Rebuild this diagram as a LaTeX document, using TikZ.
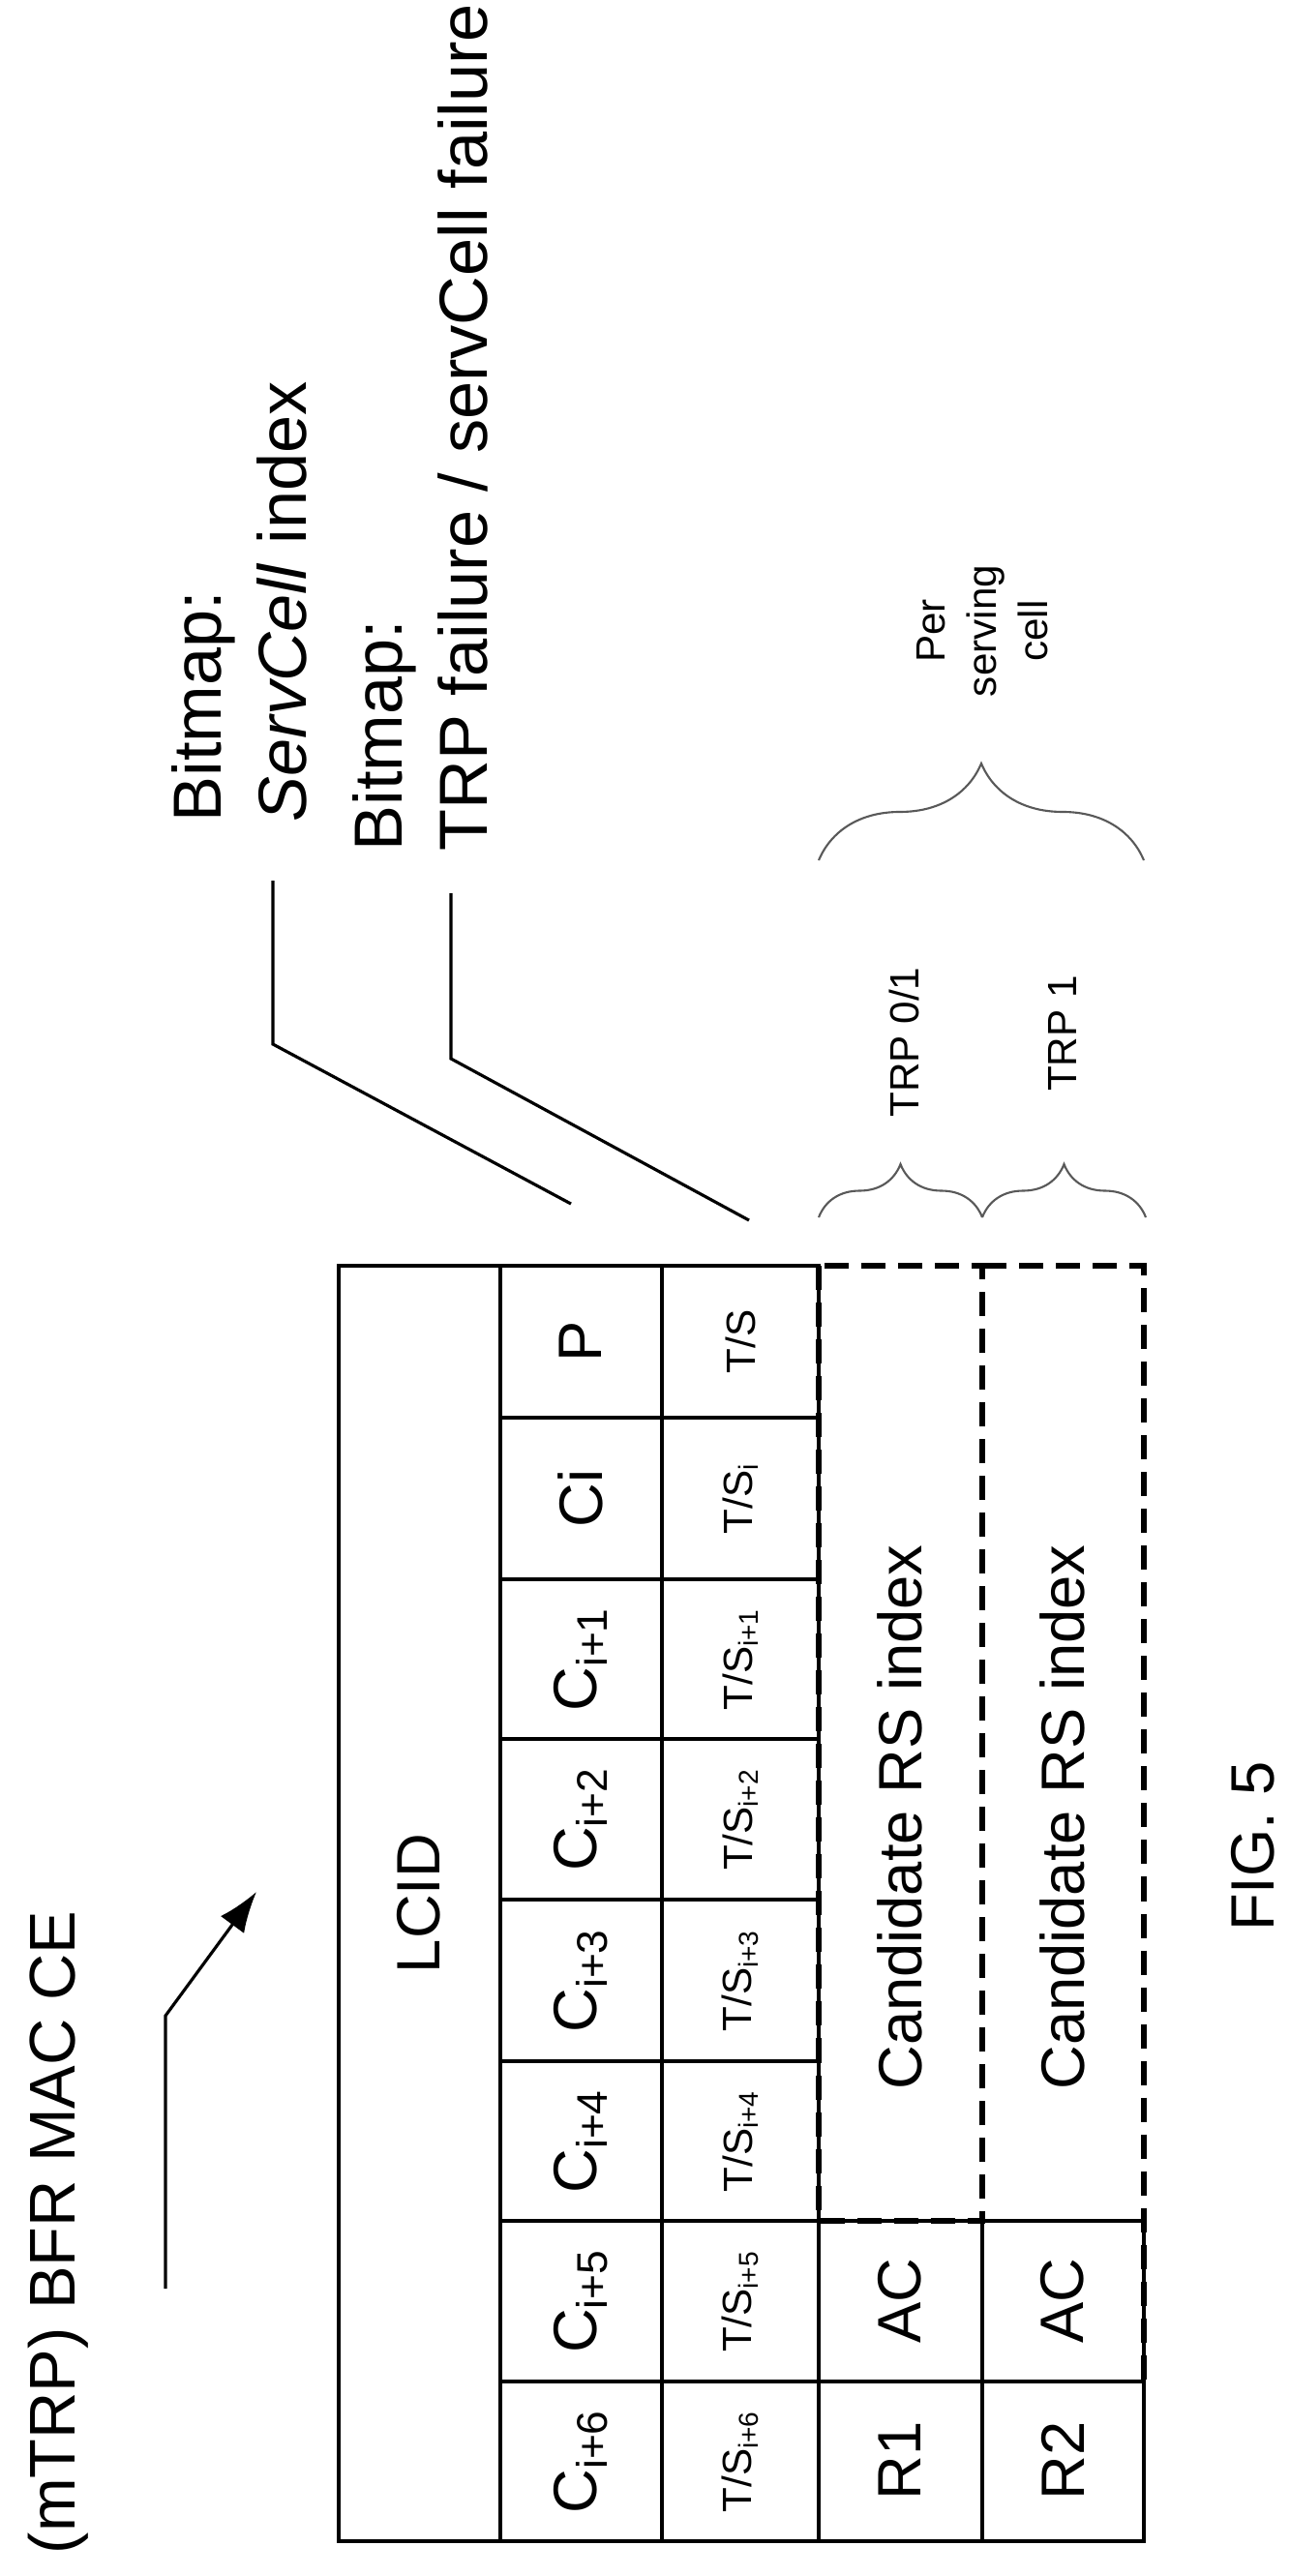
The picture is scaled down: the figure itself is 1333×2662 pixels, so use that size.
\documentclass[tikz,border=0pt]{standalone}
\usepackage{fontspec}
\setmainfont{Liberation Sans}
\usetikzlibrary{decorations.pathreplacing,arrows.meta}

\tikzset{
  px/.style={x=0.01cm,y=-0.01cm},
  cell/.style={draw,line width=0.9pt},
  rs/.style={draw,line width=1.8pt,dash pattern=on 0.25cm off 0.13cm},
  vlab/.style={rotate=90,inner sep=0pt,font=\fontsize{18}{21}\selectfont},
  tslab/.style={rotate=90,inner sep=0pt,font=\fontsize{12}{14}\selectfont},
  biglab/.style={rotate=90,inner sep=0pt,align=left,font=\fontsize{20}{25}\selectfont},
  smalllab/.style={rotate=90,inner sep=0pt,align=center,font=\fontsize{12}{15}\selectfont},
  leader/.style={line width=0.9pt},
  brc/.style={line width=0.6pt,gray!70!black,decorate,decoration={brace,amplitude=0.6cm}}
}

\begin{document}
\begin{tikzpicture}[px]
\useasboundingbox (0,0) rectangle (1333,2662);

% title and arrow
\node[vlab,font=\fontsize{19}{22}\selectfont] (title) at (60,2307) {(mTRP) BFR MAC CE};
\coordinate (a0) at (171,2365);
\coordinate (a1) at (171,2083);
\coordinate (a2) at (265,1955);
\draw[leader,-{Latex[length=0.42cm,width=0.3cm]}] (a0) -- (a1) -- (a2);

% LCID row
\draw[cell] (350,1308) rectangle (517,2626);
\node[vlab] (lcid) at (433,1967) {LCID};

% C and T/S rows
\foreach \ya/\yb/\cl/\tl [count=\k] in {
  1308/1465/P/{T/S},
  1465/1632/Ci/{T/S\textsubscript{i}},
  1632/1797/{C\textsubscript{i+1}}/{T/S\textsubscript{i+1}},
  1797/1963/{C\textsubscript{i+2}}/{T/S\textsubscript{i+2}},
  1963/2130/{C\textsubscript{i+3}}/{T/S\textsubscript{i+3}},
  2130/2295/{C\textsubscript{i+4}}/{T/S\textsubscript{i+4}},
  2295/2461/{C\textsubscript{i+5}}/{T/S\textsubscript{i+5}},
  2461/2626/{C\textsubscript{i+6}}/{T/S\textsubscript{i+6}}} {
  \draw[cell] (517,\ya) rectangle (684,\yb);
  \draw[cell] (684,\ya) rectangle (846,\yb);
  \node[vlab] (c\k) at (600,{(\ya+\yb)/2}) {\cl};
  \node[tslab] (ts\k) at (765,{(\ya+\yb)/2}) {\tl};
}

% R1 / R2 rows
\draw[rs] (846,1308) rectangle (1015,2295);
\draw[rs] (1015,1308) -- (1182,1308) -- (1182,2461);
\draw[cell] (846,2295) rectangle (1015,2461);
\draw[cell] (846,2461) rectangle (1015,2626);
\draw[cell] (1015,2295) rectangle (1182,2461);
\draw[cell] (1015,2461) rectangle (1182,2626);
\node[vlab] (rs1) at (930,1878) {Candidate RS index};
\node[vlab] (rs2) at (1098,1878) {Candidate RS index};
\node[vlab] (ac1) at (930,2378) {AC};
\node[vlab] (ac2) at (1098,2378) {AC};
\node[vlab] (r1) at (930,2543) {R1};
\node[vlab] (r2) at (1098,2543) {R2};

% bitmap labels
\node[biglab,anchor=south west] (bm1) at (318,850) {Bitmap:\\\textit{ServCell} index};
\node[biglab,anchor=south west] (bm2) at (505,880) {Bitmap:\\TRP failure / servCell failure};
\coordinate (l1a) at (282,910);
\coordinate (l1b) at (282,1079);
\coordinate (l1c) at (590,1244);
\coordinate (l2a) at (466,923);
\coordinate (l2b) at (466,1094);
\coordinate (l2c) at (774,1261);
\draw[leader] (l1a) -- (l1b) -- (l1c);
\draw[leader] (l2a) -- (l2b) -- (l2c);

% braces
\coordinate (b0) at (846,1258);
\coordinate (b1) at (1015,1258);
\coordinate (b2) at (1184,1258);
\draw[brc,decoration={amplitude=0.55cm}] (b0) -- (b1);
\draw[brc,decoration={amplitude=0.55cm}] (b1) -- (b2);
\node[smalllab] (trp01) at (934,1077) {TRP 0/1};
\node[smalllab] (trp1) at (1098,1068) {TRP 1};
\coordinate (p0) at (846,889);
\coordinate (p1) at (1182,889);
\draw[brc,decoration={amplitude=1.0cm}] (p0) -- (p1);
\node[smalllab] (perc) at (1015,652) {Per\\serving\\cell};

\node[vlab] (fig) at (1295,1908) {FIG. 5};
\end{tikzpicture}
\end{document}
